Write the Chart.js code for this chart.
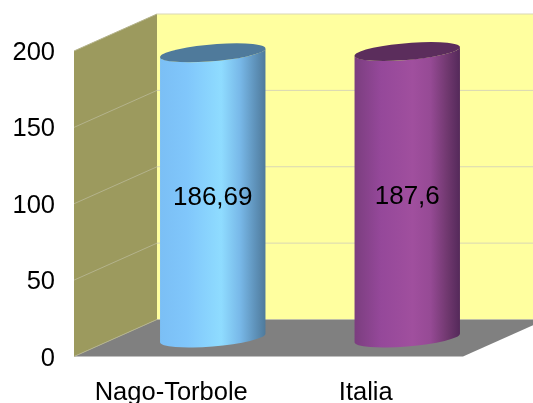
<!DOCTYPE html>
<html>
<head>
<meta charset="utf-8">
<style>
  body { margin: 0; background: #fff; }
  canvas { display: block; }
</style>
<script src="https://cdn.jsdelivr.net/npm/chart.js@4"></script>
</head>
<body>
<canvas id="chart" width="533" height="403"></canvas>
<script>
const categories = ["Nago-Torbole", "Italia"];
const values = [186.69, 187.6];
const tickValues = [0, 50, 100, 150, 200];

// depth of the fake 3d box, in pixels
const depthX = 83;
const depthY = -37;

const backLineColor = "#d9d7b5";
const wallLineColor = "#b4b38c";
const wallColor = "#9c9a5e";
const backColor = "#ffff9f";
const floorColor = "#808080";

const barStyles = [
  {
    top: "#4f7a9b",
    stops: [[0, "#7bbff5"], [0.25, "#80c6fb"], [0.58, "#8fdcff"], [0.76, "#78b8e8"], [0.9, "#5f93bb"], [1, "#4f7a9b"]],
  },
  {
    top: "#5b2d5c",
    stops: [[0, "#7b3e7f"], [0.25, "#95489a"], [0.55, "#a04f9e"], [0.72, "#964a95"], [0.88, "#70386f"], [1, "#54295a"]],
  },
];

function fillPoly(ctx, points, color) {
  ctx.fillStyle = color;
  ctx.beginPath();
  points.forEach((p, i) => (i ? ctx.lineTo(p[0], p[1]) : ctx.moveTo(p[0], p[1])));
  ctx.closePath();
  ctx.fill();
}

function strokeLine(ctx, x1, y1, x2, y2, color) {
  ctx.strokeStyle = color;
  ctx.beginPath();
  ctx.moveTo(x1, y1);
  ctx.lineTo(x2, y2);
  ctx.stroke();
}

const boxPlugin = {
  id: "box3d",
  beforeDatasetsDraw(chart) {
    const { ctx, chartArea: a, scales } = chart;
    const top = a.top, bottom = a.bottom, left = a.left, right = a.right;
    ctx.save();

    fillPoly(ctx, [[left + depthX, top + depthY], [right + depthX, top + depthY], [right + depthX, bottom + depthY], [left + depthX, bottom + depthY]], backColor);
    fillPoly(ctx, [[left, top], [left + depthX, top + depthY], [left + depthX, bottom + depthY], [left, bottom]], wallColor);
    fillPoly(ctx, [[left, bottom], [left + depthX, bottom + depthY], [right + depthX, bottom + depthY], [right, bottom]], floorColor);

    ctx.lineWidth = 1;
    tickValues.forEach((v) => {
      if (v === 0) return;
      const y = scales.y.getPixelForValue(v);
      strokeLine(ctx, left, y, left + depthX, y + depthY, wallLineColor);
      strokeLine(ctx, left + depthX, y + depthY, right + depthX, y + depthY, backLineColor);
    });
    strokeLine(ctx, left, bottom, left + depthX, bottom + depthY, wallLineColor);
    ctx.restore();
  },
  afterDatasetsDraw(chart) {
    const { ctx } = chart;
    const meta = chart.getDatasetMeta(0);

    meta.data.forEach((bar, i) => {
      const style = barStyles[i];
      const cx = bar.x + depthX / 2;
      const half = bar.width / 2;
      const topY = bar.y + depthY / 2;
      const baseY = bar.base + depthY / 2;

      // disc lying in the floor plane, v follows the depth direction
      const vx = 24;
      const vy = -9.5;
      const ux = Math.sqrt(half * half - vx * vx);
      const t0 = Math.atan2(vx, ux);

      const grad = ctx.createLinearGradient(cx - half, 0, cx + half, 0);
      style.stops.forEach((s) => grad.addColorStop(s[0], s[1]));

      ctx.save();
      ctx.beginPath();
      ctx.save();
      ctx.transform(ux, 0, vx, vy, cx, baseY);
      ctx.arc(0, 0, 1, t0 + Math.PI, t0 + 2 * Math.PI);
      ctx.restore();
      ctx.save();
      ctx.transform(ux, 0, vx, vy, cx, topY);
      ctx.arc(0, 0, 1, t0 + 2 * Math.PI, t0 + Math.PI, true);
      ctx.restore();
      ctx.closePath();
      ctx.fillStyle = grad;
      ctx.fill();

      ctx.beginPath();
      ctx.save();
      ctx.transform(ux, 0, vx, vy, cx, topY);
      ctx.arc(0, 0, 1, 0, 2 * Math.PI);
      ctx.restore();
      ctx.fillStyle = style.top;
      ctx.fill();

      // value label in the middle of the cylinder
      ctx.fillStyle = "#000";
      ctx.font = '26px "Liberation Sans"';
      ctx.textAlign = "center";
      ctx.textBaseline = "middle";
      ctx.fillText(String(values[i]).replace(".", ","), cx, (topY + baseY) / 2 + 2.5);
      ctx.restore();
    });
  },
};

new Chart(document.getElementById("chart"), {
  type: "bar",
  data: {
    labels: categories,
    datasets: [
      {
        data: values,
        backgroundColor: "rgba(0,0,0,0)",
        borderWidth: 0,
        barPercentage: 1,
        categoryPercentage: 0.542,
      },
    ],
  },
  options: {
    responsive: false,
    animation: false,
    layout: { padding: { top: 51, right: 70, left: 0, bottom: 0 } },
    plugins: { legend: { display: false }, tooltip: { enabled: false } },
    scales: {
      x: {
        afterFit(scale) { scale.height = 46.5; },
        grid: { display: false },
        border: { display: false },
        ticks: { color: "#000", font: { family: "Liberation Sans", size: 25.5 }, padding: 13, maxRotation: 0 },
      },
      y: {
        min: 0,
        max: 200,
        afterFit(scale) { scale.width = 74; },
        afterBuildTicks(scale) { scale.ticks = tickValues.map((v) => ({ value: v })); },
        grid: { display: false, drawTicks: false },
        border: { display: false },
        ticks: { color: "#000", font: { family: "Liberation Sans", size: 25.5 }, padding: 19, labelOffset: 2 },
      },
    },
  },
  plugins: [boxPlugin],
});
</script>
</body>
</html>
